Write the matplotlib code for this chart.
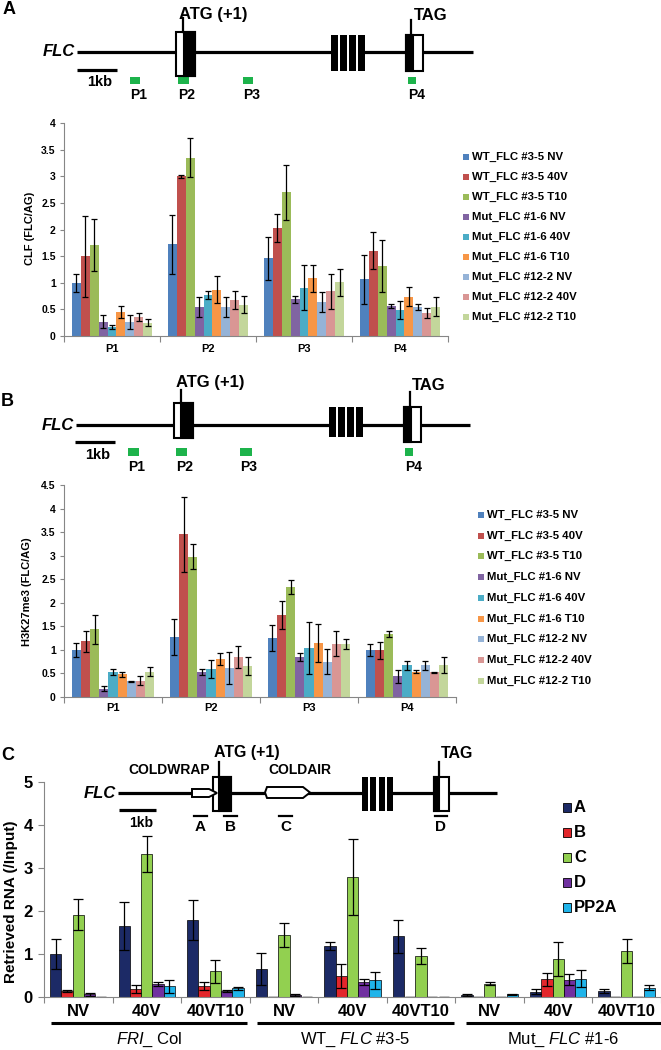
import numpy as np
import matplotlib.pyplot as plt
from matplotlib.patches import Rectangle, Polygon

plt.rcParams['font.family'] = ['Liberation Sans', 'DejaVu Sans']
plt.rcParams['mathtext.fontset'] = 'custom'
plt.rcParams['mathtext.it'] = 'Liberation Sans:italic'
plt.rcParams['mathtext.rm'] = 'Liberation Sans'

W, H = 661, 1050

# ---------------- data: panels A and B ----------------
sites = ['P1', 'P2', 'P3', 'P4']
lines_ab = ['WT_FLC #3-5 NV', 'WT_FLC #3-5 40V', 'WT_FLC #3-5 T10',
            'Mut_FLC #1-6 NV', 'Mut_FLC #1-6 40V', 'Mut_FLC #1-6 T10',
            'Mut_FLC #12-2 NV', 'Mut_FLC #12-2 40V', 'Mut_FLC #12-2 T10']
colors_ab = ['#4f81bd', '#c0504d', '#9bbb59', '#8064a2', '#4bacc6',
             '#f79646', '#95b3d7', '#d99694', '#c3d69b']

# CLF (FLC/AG), one list per primer site, 9 lines each
clf_p1 = [1.00, 1.50, 1.71, 0.27, 0.17, 0.45, 0.27, 0.36, 0.25]
clf_p2 = [1.72, 3.00, 3.35, 0.54, 0.77, 0.87, 0.54, 0.67, 0.59]
clf_p3 = [1.46, 2.03, 2.70, 0.69, 0.91, 1.08, 0.64, 0.84, 1.01]
clf_p4 = [1.07, 1.60, 1.32, 0.57, 0.48, 0.74, 0.54, 0.43, 0.55]
clf_p1_err = [0.17, 0.76, 0.49, 0.12, 0.04, 0.11, 0.13, 0.08, 0.07]
clf_p2_err = [0.55, 0.03, 0.36, 0.19, 0.08, 0.25, 0.19, 0.17, 0.16]
clf_p3_err = [0.40, 0.27, 0.52, 0.07, 0.42, 0.25, 0.18, 0.33, 0.25]
clf_p4_err = [0.46, 0.35, 0.49, 0.04, 0.17, 0.18, 0.06, 0.09, 0.18]

# H3K27me3 (FLC/AG)
k27_p1 = [1.00, 1.18, 1.44, 0.18, 0.53, 0.48, 0.33, 0.35, 0.54]
k27_p2 = [1.27, 3.45, 2.98, 0.53, 0.59, 0.81, 0.62, 0.85, 0.65]
k27_p3 = [1.25, 1.74, 2.33, 0.85, 1.04, 1.15, 0.75, 1.13, 1.13]
k27_p4 = [1.00, 0.99, 1.34, 0.44, 0.67, 0.54, 0.67, 0.53, 0.68]
k27_p1_err = [0.15, 0.23, 0.31, 0.05, 0.07, 0.06, 0.02, 0.09, 0.09]
k27_p2_err = [0.38, 0.79, 0.27, 0.07, 0.19, 0.13, 0.34, 0.23, 0.19]
k27_p3_err = [0.28, 0.30, 0.15, 0.09, 0.55, 0.40, 0.26, 0.27, 0.11]
k27_p4_err = [0.12, 0.18, 0.07, 0.14, 0.10, 0.03, 0.10, 0.01, 0.16]

# ---------------- data: panel C ----------------
conditions = ['NV', '40V', '40VT10', 'NV', '40V', '40VT10', 'NV', '40V', '40VT10']
genotypes = [r'$\mathit{FRI}$_ Col', r'WT_ $\mathit{FLC}$ #3-5', r'Mut_ $\mathit{FLC}$ #1-6']
amplicons = ['A', 'B', 'C', 'D', 'PP2A']
colors_c = ['#1c2a66', '#e3262b', '#92d050', '#7030a0', '#1fb4ea']

rna_a = [1.00, 1.66, 1.79, 0.65, 1.19, 1.41, 0.05, 0.12, 0.14]
rna_b = [0.14, 0.19, 0.26, 0.00, 0.49, 0.00, 0.00, 0.41, 0.00]
rna_c = [1.91, 3.33, 0.60, 1.44, 2.79, 0.96, 0.31, 0.88, 1.07]
rna_d = [0.06, 0.31, 0.14, 0.05, 0.35, 0.01, 0.00, 0.40, 0.01]
rna_pp2a = [0.01, 0.25, 0.20, 0.01, 0.39, 0.00, 0.06, 0.43, 0.22]
rna_a_err = [0.35, 0.56, 0.47, 0.37, 0.10, 0.39, 0.02, 0.06, 0.04]
rna_b_err = [0.03, 0.10, 0.10, 0.00, 0.27, 0.00, 0.00, 0.15, 0.00]
rna_c_err = [0.36, 0.42, 0.27, 0.27, 0.88, 0.19, 0.04, 0.40, 0.29]
rna_d_err = [0.04, 0.05, 0.03, 0.02, 0.08, 0.00, 0.00, 0.13, 0.00]
rna_pp2a_err = [0.00, 0.15, 0.04, 0.00, 0.20, 0.00, 0.01, 0.19, 0.05]

fig = plt.figure(figsize=(W / 100, H / 100), dpi=100)


def axes_px(left, top, right, bottom):
    return fig.add_axes([left / W, 1 - bottom / H, (right - left) / W, (bottom - top) / H])


AXC = '#868686'


def chip_panel(ax, vals, errs, ymax, pad):
    vals = np.array(vals)
    errs = np.array(errs)
    x = np.arange(len(sites))
    w = 0.84 / 9
    for i, c in enumerate(colors_ab):
        ax.bar(x + (i - 4) * w, vals[:, i], w, color=c, yerr=errs[:, i],
               error_kw=dict(ecolor='black', elinewidth=0.9, capsize=2.2, capthick=0.9))
    ax.set_xlim(-0.5, 3.5)
    ax.set_ylim(0, ymax)
    yt = np.arange(0, ymax + 0.01, 0.5)
    ax.set_yticks(yt)
    ax.set_yticklabels(['%g' % v for v in yt], fontsize=7.5, fontweight='bold')
    ax.set_xticks(x)
    ax.set_xticklabels(sites, fontsize=8, fontweight='bold')
    ax.set_xticks(np.arange(-0.5, 4, 1), minor=True)
    ax.tick_params(axis='x', which='major', length=0, pad=pad)
    ax.tick_params(axis='x', which='minor', length=4, color=AXC, width=0.8)
    ax.tick_params(axis='y', length=3, color=AXC, width=0.8, pad=3)
    for s in ['top', 'right']:
        ax.spines[s].set_visible(False)
    for s in ['left', 'bottom']:
        ax.spines[s].set_color(AXC)
        ax.spines[s].set_linewidth(0.8)


axa = axes_px(64, 123, 448, 336)
chip_panel(axa, [clf_p1, clf_p2, clf_p3, clf_p4],
           [clf_p1_err, clf_p2_err, clf_p3_err, clf_p4_err], 4, 6)

axb = axes_px(64, 485, 456, 697)
chip_panel(axb, [k27_p1, k27_p2, k27_p3, k27_p4],
           [k27_p1_err, k27_p2_err, k27_p3_err, k27_p4_err], 4.5, 4)

# ---------------- panel C chart ----------------
axc = axes_px(44, 782, 661, 997)
rna = [rna_a, rna_b, rna_c, rna_d, rna_pp2a]
rna_err = [rna_a_err, rna_b_err, rna_c_err, rna_d_err, rna_pp2a_err]
xc = np.arange(len(conditions))
wc = 0.165
for j, c in enumerate(colors_c):
    axc.bar(xc + (j - 2) * wc, rna[j], wc, color=c, edgecolor='black', linewidth=0.5,
            yerr=rna_err[j],
            error_kw=dict(ecolor='black', elinewidth=0.9, capsize=3.5, capthick=0.9))
axc.set_xlim(-0.5, 8.5)
axc.set_ylim(0, 5)
axc.set_yticks(range(6))
axc.set_yticklabels([str(v) for v in range(6)], fontsize=12, fontweight='bold')
axc.set_xticks(xc)
axc.set_xticklabels(conditions, fontsize=12, fontweight='bold')
axc.set_xticks(np.arange(-0.5, 9, 1), minor=True)
axc.tick_params(axis='x', which='major', length=0, pad=5)
axc.tick_params(axis='x', which='minor', length=4, color=AXC, width=0.8)
axc.tick_params(axis='y', length=4, color=AXC, width=0.8, pad=4)
for s in ['top', 'right']:
    axc.spines[s].set_visible(False)
for s in ['left', 'bottom']:
    axc.spines[s].set_color(AXC)
    axc.spines[s].set_linewidth(0.8)

# ---------------- overlay canvas (pixel coords) ----------------
cv = fig.add_axes([0, 0, 1, 1], zorder=10)
cv.set_xlim(0, W)
cv.set_ylim(H, 0)
cv.axis('off')
cv.patch.set_alpha(0)


def exon(xl, xm, xr, top, bot, black_left):
    cv.add_patch(Rectangle((xl, top), xr - xl, bot - top, fc='white', ec='black', lw=1.5, zorder=3))
    if black_left:
        cv.add_patch(Rectangle((xl, top), xm - xl, bot - top, fc='black', ec='black', lw=1.5, zorder=4))
    else:
        cv.add_patch(Rectangle((xm, top), xr - xm, bot - top, fc='black', ec='black', lw=1.5, zorder=4))


def mid_exons(xl, xr, top, bot):
    gap = 2.4
    w = (xr - xl - 3 * gap) / 4
    cv.add_patch(Rectangle((xl, top), xr - xl, bot - top, fc='black', ec='none', zorder=3))
    for k in range(3):
        cv.add_patch(Rectangle((xl + (k + 1) * w + k * gap, top), gap, bot - top,
                               fc='white', ec='none', zorder=4))


def gene(label, lab_xy, y, x0, x1, ex1, t1, mid, ex2, t2, atg_xy, tag_xy, fs_big,
         bar, kb_xy, fs_kb):
    cv.text(lab_xy[0], lab_xy[1], label, fontsize=13, fontweight='bold', ha='center', va='center')
    cv.plot([x0, x1], [y, y], color='black', lw=2.3, solid_capstyle='butt', zorder=2)
    cv.text(x0 - 2, y, 'FLC', fontsize=12, fontweight='bold', style='italic', ha='right', va='center')
    exon(*ex1, black_left=False)
    cv.plot([t1[0], t1[0]], [t1[1], t1[2]], color='black', lw=1.6, zorder=3)
    mid_exons(*mid)
    exon(*ex2, black_left=True)
    cv.plot([t2[0], t2[0]], [t2[1], t2[2]], color='black', lw=1.6, zorder=3)
    cv.text(atg_xy[0], atg_xy[1], 'ATG (+1)', fontsize=fs_big, fontweight='bold', ha='center', va='center')
    cv.text(tag_xy[0], tag_xy[1], 'TAG', fontsize=fs_big, fontweight='bold', ha='center', va='center')
    cv.plot([bar[0], bar[1]], [bar[2], bar[2]], color='black', lw=2.3, solid_capstyle='butt')
    cv.text(kb_xy[0], kb_xy[1], '1kb', fontsize=fs_kb, fontweight='bold', ha='center', va='center')


def primers(sq, top, bot, ylab):
    for name, (xl, xr) in zip(sites, sq):
        cv.add_patch(Rectangle((xl, top), xr - xl, bot - top, fc='#1db34b', ec='none'))
        cv.text(xl, ylab, name, fontsize=10, fontweight='bold', ha='left', va='center')


def legend_ab(x, y0, dy):
    for i, (name, c) in enumerate(zip(lines_ab, colors_ab)):
        y = y0 + i * dy
        cv.add_patch(Rectangle((x, y - 3), 6, 6, fc=c, ec='none'))
        cv.text(x + 9, y, name, fontsize=8.2, fontweight='bold', ha='left', va='center')


# panel A diagram
gene('A', (9, 10), 52, 77, 473, (176, 184, 195, 32, 76), (183, 18, 32),
     (331, 365, 35, 71), (406, 413, 423, 35, 71), (411, 20, 35),
     (213, 15), (431, 15), 12, (77, 117, 70), (100, 82), 10.5)
primers([(130, 140), (178, 189), (243, 253), (408, 416)], 77, 84, 95)
cv.text(30, 228, 'CLF (FLC/AG)', fontsize=8, fontweight='bold', rotation=90, ha='center', va='center')
legend_ab(463, 157, 20)

# panel B diagram
gene('B', (7, 402), 425, 76, 470, (174, 181, 193, 403, 438), (181, 390, 403),
     (329, 363, 407, 437), (404, 411, 421, 407, 442), (410, 392, 407),
     (210, 383), (429, 385), 12, (75, 115, 442), (98, 455), 10.5)
primers([(128, 139), (176, 187), (240, 252), (405, 413)], 448, 456, 467)
cv.text(27, 592, 'H3K27me3 (FLC/AG)', fontsize=8, fontweight='bold', rotation=90, ha='center', va='center')
legend_ab(478, 515, 20.7)

# panel C diagram
gene('C', (8, 756), 793, 118, 497, (213, 219, 231, 777, 811), (219, 762, 777),
     (362, 393, 777, 811), (434, 439, 449, 777, 811), (439, 762, 777),
     (247, 752), (457, 754), 11.5, (119, 156, 810), (141, 823), 10)
cv.add_patch(Polygon([(192, 789), (209, 789), (217, 793), (209, 797), (192, 797)],
                     closed=True, fc='white', ec='black', lw=1.4, zorder=5))
cv.add_patch(Polygon([(267, 787), (303, 787), (310, 792.5), (303, 798), (267, 798), (265, 792.5)],
                     closed=True, fc='white', ec='black', lw=1.4, zorder=5))
cv.text(169, 770, 'COLDWRAP', fontsize=10, fontweight='bold', ha='center', va='center')
cv.text(300, 770, 'COLDAIR', fontsize=10, fontweight='bold', ha='center', va='center')
for name, (xl, xr) in zip(['A', 'B', 'C', 'D'], [(194, 207), (224, 237), (279, 292), (435, 447)]):
    cv.plot([xl, xr], [816, 816], color='black', lw=1.6)
    cv.text((xl + xr) / 2, 827, name, fontsize=11, fontweight='bold', ha='center', va='center')

# panel C legend
for i, (name, c) in enumerate(zip(amplicons, colors_c)):
    y = 807 + i * 25.2
    cv.add_patch(Rectangle((563, y - 4.5), 8, 9, fc=c, ec='black', lw=0.6))
    cv.text(574, y, name, fontsize=12, fontweight='bold', ha='left', va='center')

cv.text(11, 902, 'Retrieved RNA (/Input)', fontsize=11, fontweight='bold', rotation=90,
        ha='center', va='center')

# genotype underlines and labels
for name, (xl, xr) in zip(genotypes, [(51, 247), (257, 454), (466, 661)]):
    cv.plot([xl, xr], [1023, 1023], color='black', lw=2.2, solid_capstyle='butt')
    cv.text((xl + xr) / 2, 1040, name, fontsize=12, ha='center', va='center')

fig.savefig('out.png', dpi=100)
